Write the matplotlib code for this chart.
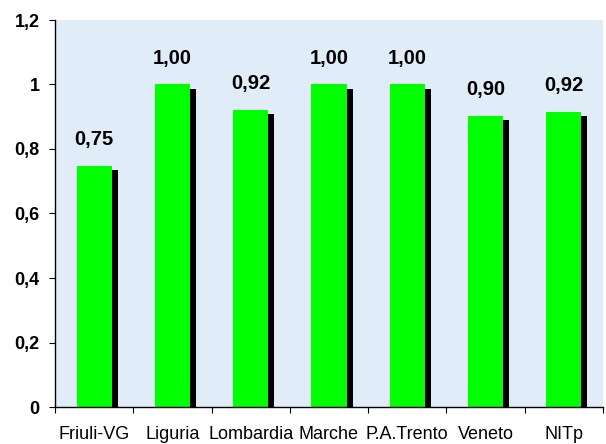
import numpy as np
import matplotlib
matplotlib.use("Agg")
import matplotlib.pyplot as plt
import matplotlib.patheffects as pe

regions = ["Friuli-VG", "Liguria", "Lombardia", "Marche", "P.A.Trento", "Veneto", "NITp"]
values = [0.747, 1.00, 0.92, 1.00, 1.00, 0.902, 0.915]
labels = ["0,75", "1,00", "0,92", "1,00", "1,00", "0,90", "0,92"]
yticks = [0, 0.2, 0.4, 0.6, 0.8, 1.0, 1.2]
ytick_labels = ["0", "0,2", "0,4", "0,6", "0,8", "1", "1,2"]

plt.rcParams['font.family'] = ['Liberation Sans', 'DejaVu Sans']

fig = plt.figure(figsize=(6.06, 4.44), dpi=100)
ax = fig.add_axes([55 / 606, 37 / 444, 548 / 606, 387 / 444])
ax.set_facecolor('#e1ecf9')

x = np.arange(len(regions))
shadow = [pe.SimplePatchShadow(offset=(4.3, -2.9), shadow_rgbFace='black', alpha=1.0), pe.Normal()]
bars = ax.bar(x, values, width=0.45, color='#00ff00', edgecolor='none', zorder=3)
for b in bars:
    b.set_path_effects(shadow)

# value labels above the bars
for xi, v, lab in zip(x, values, labels):
    ax.annotate(lab, (xi, v), xytext=(0, 15), textcoords='offset points',
                ha='center', va='baseline', fontsize=14.5, fontweight='bold')

ax.set_xlim(-0.5, len(regions) - 0.5)
ax.set_ylim(0, 1.2)
ax.set_yticks(yticks)
ax.set_yticklabels(ytick_labels, fontsize=13, fontweight='bold')

# ticks on category boundaries, labels in the middle
ax.set_xticks(np.arange(len(regions) + 1) - 0.5)
ax.set_xticklabels([])
ax.set_xticks(x, minor=True)
ax.set_xticklabels(regions, minor=True, fontsize=13)
ax.tick_params(axis='x', which='minor', length=0, pad=14)
ax.tick_params(axis='x', which='major', length=4, direction='out', color='black')
ax.tick_params(axis='y', length=4, direction='out', pad=7)

for s in ['top', 'right']:
    ax.spines[s].set_visible(False)
for s in ['left', 'bottom']:
    ax.spines[s].set_linewidth(1)
    ax.spines[s].set_zorder(4)

fig.savefig('out.png', dpi=100, facecolor='white')
